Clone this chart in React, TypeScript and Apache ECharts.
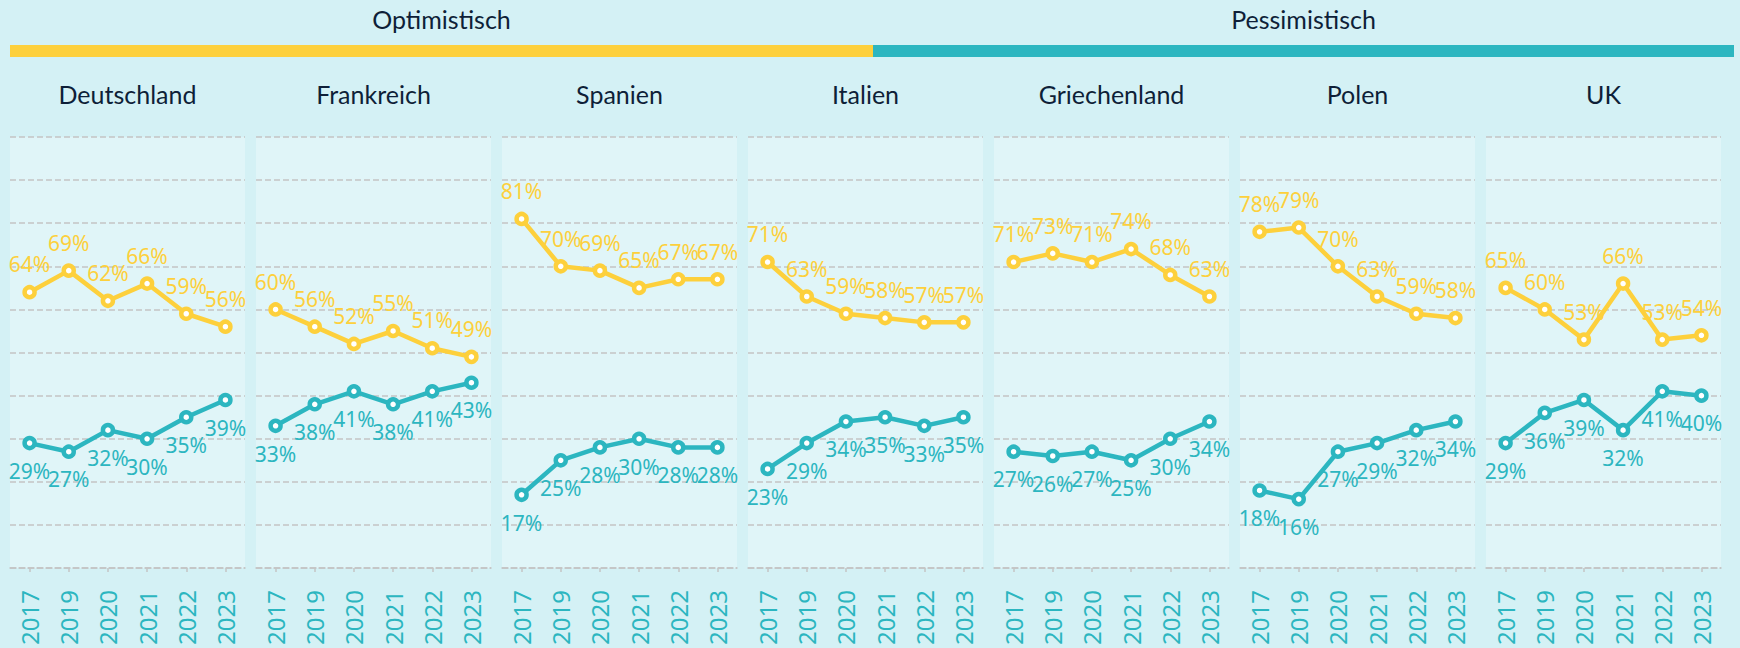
import React, { useEffect, useRef } from "react";
import * as echarts from "echarts";

const years = ["2017", "2019", "2020", "2021", "2022", "2023"];
const countries = ["Deutschland", "Frankreich", "Spanien", "Italien", "Griechenland", "Polen", "UK"];
const groupLabels = ["Optimistisch", "Pessimistisch"];

const optDeutschland = [64, 69, 62, 66, 59, 56];
const pesDeutschland = [29, 27, 32, 30, 35, 39];
const optFrankreich = [60, 56, 52, 55, 51, 49];
const pesFrankreich = [33, 38, 41, 38, 41, 43];
const optSpanien = [81, 70, 69, 65, 67, 67];
const pesSpanien = [17, 25, 28, 30, 28, 28];
const optItalien = [71, 63, 59, 58, 57, 57];
const pesItalien = [23, 29, 34, 35, 33, 35];
const optGriechenland = [71, 73, 71, 74, 68, 63];
const pesGriechenland = [27, 26, 27, 25, 30, 34];
const optPolen = [78, 79, 70, 63, 59, 58];
const pesPolen = [18, 16, 27, 29, 32, 34];
const optUK = [65, 60, 53, 66, 53, 54];
const pesUK = [29, 36, 39, 32, 41, 40];

const optimistisch = [optDeutschland, optFrankreich, optSpanien, optItalien, optGriechenland, optPolen, optUK];
const pessimistisch = [pesDeutschland, pesFrankreich, pesSpanien, pesItalien, pesGriechenland, pesPolen, pesUK];

const YELLOW = "#FDD03C";
const TEAL = "#2CB6C0";
const PAGE_BG = "#D4F1F5";
const PANEL_BG = "#E0F5F8";
const TITLE = "#0E1F38";
const GRID = "#c4c4c4";
const LABEL_FONT = "'Noto Sans', 'Open Sans', sans-serif";
const TITLE_FONT = "Lato, 'Noto Sans', sans-serif";

const PANEL_LEFT = 10;
const PANEL_W = 235;
const PANEL_PITCH = 246;
const PANEL_TOP = 137;
const PANEL_H = 434;

export default function App() {
  const ref = useRef<HTMLDivElement>(null);

  useEffect(() => {
    if (!ref.current) return;
    const chart = echarts.init(ref.current, null, { renderer: "svg" });

    const grids: any[] = [];
    const xAxes: any[] = [];
    const yAxes: any[] = [];
    const series: any[] = [];
    const graphics: any[] = [];

    countries.forEach((name, i) => {
      const left = PANEL_LEFT + PANEL_PITCH * i;
      grids.push({
        left,
        top: PANEL_TOP,
        width: PANEL_W,
        height: PANEL_H,
        show: true,
        backgroundColor: PANEL_BG,
        borderWidth: 0,
        containLabel: false,
      });
      xAxes.push({
        type: "category",
        gridIndex: i,
        data: years,
        boundaryGap: true,
        axisLine: { show: true, lineStyle: { color: GRID, type: "dashed", width: 1.5 } },
        axisTick: { show: true, alignWithLabel: true, length: 4, lineStyle: { color: GRID, width: 1.5 } },
        axisLabel: { rotate: 90, color: TEAL, fontSize: 24, fontFamily: LABEL_FONT, margin: 22 },
        splitLine: { show: false },
      });
      yAxes.push({
        type: "value",
        gridIndex: i,
        min: 0,
        max: 100,
        interval: 10,
        axisLabel: { show: false },
        axisLine: { show: false },
        axisTick: { show: false },
        splitLine: { show: true, lineStyle: { color: GRID, type: "dashed", width: 1.5 } },
      });
      [
        { data: optimistisch[i], color: YELLOW, pos: "top", name: groupLabels[0] },
        { data: pessimistisch[i], color: TEAL, pos: "bottom", name: groupLabels[1] },
      ].forEach((s) => {
        series.push({
          type: "line",
          name: s.name,
          xAxisIndex: i,
          yAxisIndex: i,
          data: s.data,
          symbol: "circle",
          symbolSize: 10,
          lineStyle: { color: s.color, width: 4.5 },
          itemStyle: { color: "#ffffff", borderColor: s.color, borderWidth: 4.5 },
          label: {
            show: true,
            position: s.pos,
            distance: 10,
            formatter: "{c}%",
            color: s.color,
            fontSize: 21,
            fontFamily: LABEL_FONT,
          },
          emphasis: { disabled: true },
        });
      });
      graphics.push({
        type: "text",
        x: left + PANEL_W / 2,
        y: 94,
        style: {
          text: name,
          fill: TITLE,
          font: `25px ${TITLE_FONT}`,
          textAlign: "center",
          textVerticalAlign: "middle",
        },
      });
    });

    graphics.push(
      { type: "rect", shape: { x: 10, y: 45, width: 863, height: 12 }, style: { fill: YELLOW } },
      { type: "rect", shape: { x: 873, y: 45, width: 861, height: 12 }, style: { fill: TEAL } },
      {
        type: "text",
        x: 441.5,
        y: 19,
        style: { text: groupLabels[0], fill: TITLE, font: `25px ${TITLE_FONT}`, textAlign: "center", textVerticalAlign: "middle" },
      },
      {
        type: "text",
        x: 1303.5,
        y: 19,
        style: { text: groupLabels[1], fill: TITLE, font: `25px ${TITLE_FONT}`, textAlign: "center", textVerticalAlign: "middle" },
      }
    );

    chart.setOption({
      animation: false,
      backgroundColor: PAGE_BG,
      grid: grids,
      xAxis: xAxes,
      yAxis: yAxes,
      series,
      graphic: graphics,
    });

    return () => chart.dispose();
  }, []);

  return (
    <div
      ref={ref}
      style={{ position: "fixed", left: 0, top: 0, width: 1740, height: 648, background: PAGE_BG }}
    />
  );
}
